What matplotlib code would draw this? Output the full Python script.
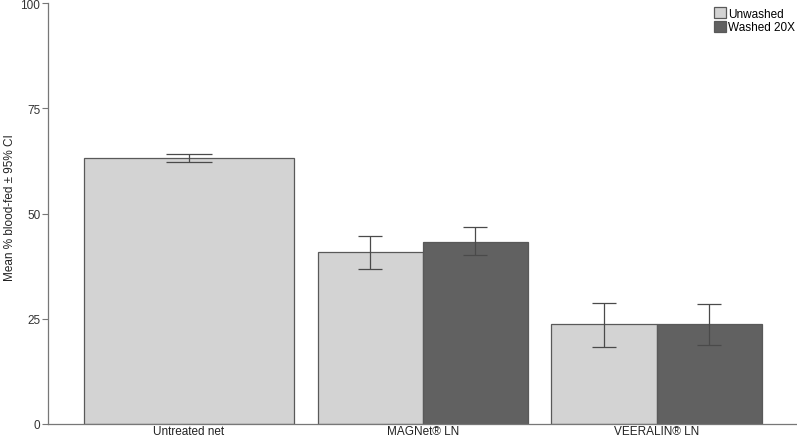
import matplotlib
matplotlib.use("Agg")
import matplotlib.pyplot as plt
import numpy as np
from matplotlib.patches import Patch

plt.rcParams['font.family'] = ['Liberation Sans', 'DejaVu Sans']

categories = ["Untreated net", "MAGNet® LN", "VEERALIN® LN"]
series = ["Unwashed", "Washed 20X"]
# Unwashed
unwashed_mean = [63.2, 40.8, 23.7]
unwashed_lo = [62.2, 36.7, 18.4]
unwashed_hi = [64.2, 44.7, 28.7]
# Washed 20X (no washed bar for untreated net)
washed_mean = [None, 43.3, 23.7]
washed_lo = [None, 40.1, 18.8]
washed_hi = [None, 46.7, 28.6]
yticks = [0, 25, 50, 75, 100]

light = "#d3d3d3"
dark = "#616161"
edge = "#595959"
errc = "#4a4a4a"

fig = plt.figure(figsize=(7.97, 4.39), dpi=100)
ax = fig.add_axes([48/797, 1-425/439, 1-48/797, (425-4)/439])

x = np.arange(len(categories))
w = 0.45
for i, cat in enumerate(categories):
    if washed_mean[i] is None:
        ax.bar(x[i], unwashed_mean[i], width=2*w, color=light, edgecolor=edge, linewidth=0.9, zorder=2)
        ax.errorbar(x[i], unwashed_mean[i],
                    yerr=[[unwashed_mean[i]-unwashed_lo[i]], [unwashed_hi[i]-unwashed_mean[i]]],
                    fmt='none', ecolor=errc, elinewidth=0.9, capsize=16.5, capthick=0.9, zorder=3)
    else:
        ax.bar(x[i]-w/2, unwashed_mean[i], width=w, color=light, edgecolor=edge, linewidth=0.9, zorder=2)
        ax.bar(x[i]+w/2, washed_mean[i], width=w, color=dark, edgecolor=edge, linewidth=0.9, zorder=2)
        ax.errorbar(x[i]-w/2, unwashed_mean[i],
                    yerr=[[unwashed_mean[i]-unwashed_lo[i]], [unwashed_hi[i]-unwashed_mean[i]]],
                    fmt='none', ecolor=errc, elinewidth=0.9, capsize=8.6, capthick=0.9, zorder=3)
        ax.errorbar(x[i]+w/2, washed_mean[i],
                    yerr=[[washed_mean[i]-washed_lo[i]], [washed_hi[i]-washed_mean[i]]],
                    fmt='none', ecolor=errc, elinewidth=0.9, capsize=8.6, capthick=0.9, zorder=3)

ax.set_xlim(-0.603, 2.6)
ax.set_ylim(0, 100)
ax.set_yticks(yticks)
ax.set_xticks(x)
ax.set_xticklabels(categories)
ax.tick_params(axis='x', length=0, pad=1, labelsize=8.5, colors="#222222")
ax.tick_params(axis='y', length=4, width=0.8, color="#777777", labelsize=8.5, labelcolor="#333333", pad=1.5)
for s in ['top', 'right']:
    ax.spines[s].set_visible(False)
for s in ['left', 'bottom']:
    ax.spines[s].set_color("#777777")
    ax.spines[s].set_linewidth(0.9)

fig.text(10/797, 1-208/439, "Mean % blood-fed ± 95% CI", rotation=90,
         ha='center', va='center', fontsize=8.5, color="#222222")

handles = [Patch(facecolor=light, edgecolor=edge, linewidth=0.9, label=series[0]),
           Patch(facecolor=dark, edgecolor=edge, linewidth=0.9, label=series[1])]
leg = ax.legend(handles=handles, loc='upper right', bbox_to_anchor=(1.0 + 4/749, 1.0 + 2/421),
                frameon=False, fontsize=8.5, handlelength=1.0, handleheight=1.1, handletextpad=0.2,
                labelspacing=0.1, borderaxespad=0.1)

fig.savefig("out.png", dpi=100)
